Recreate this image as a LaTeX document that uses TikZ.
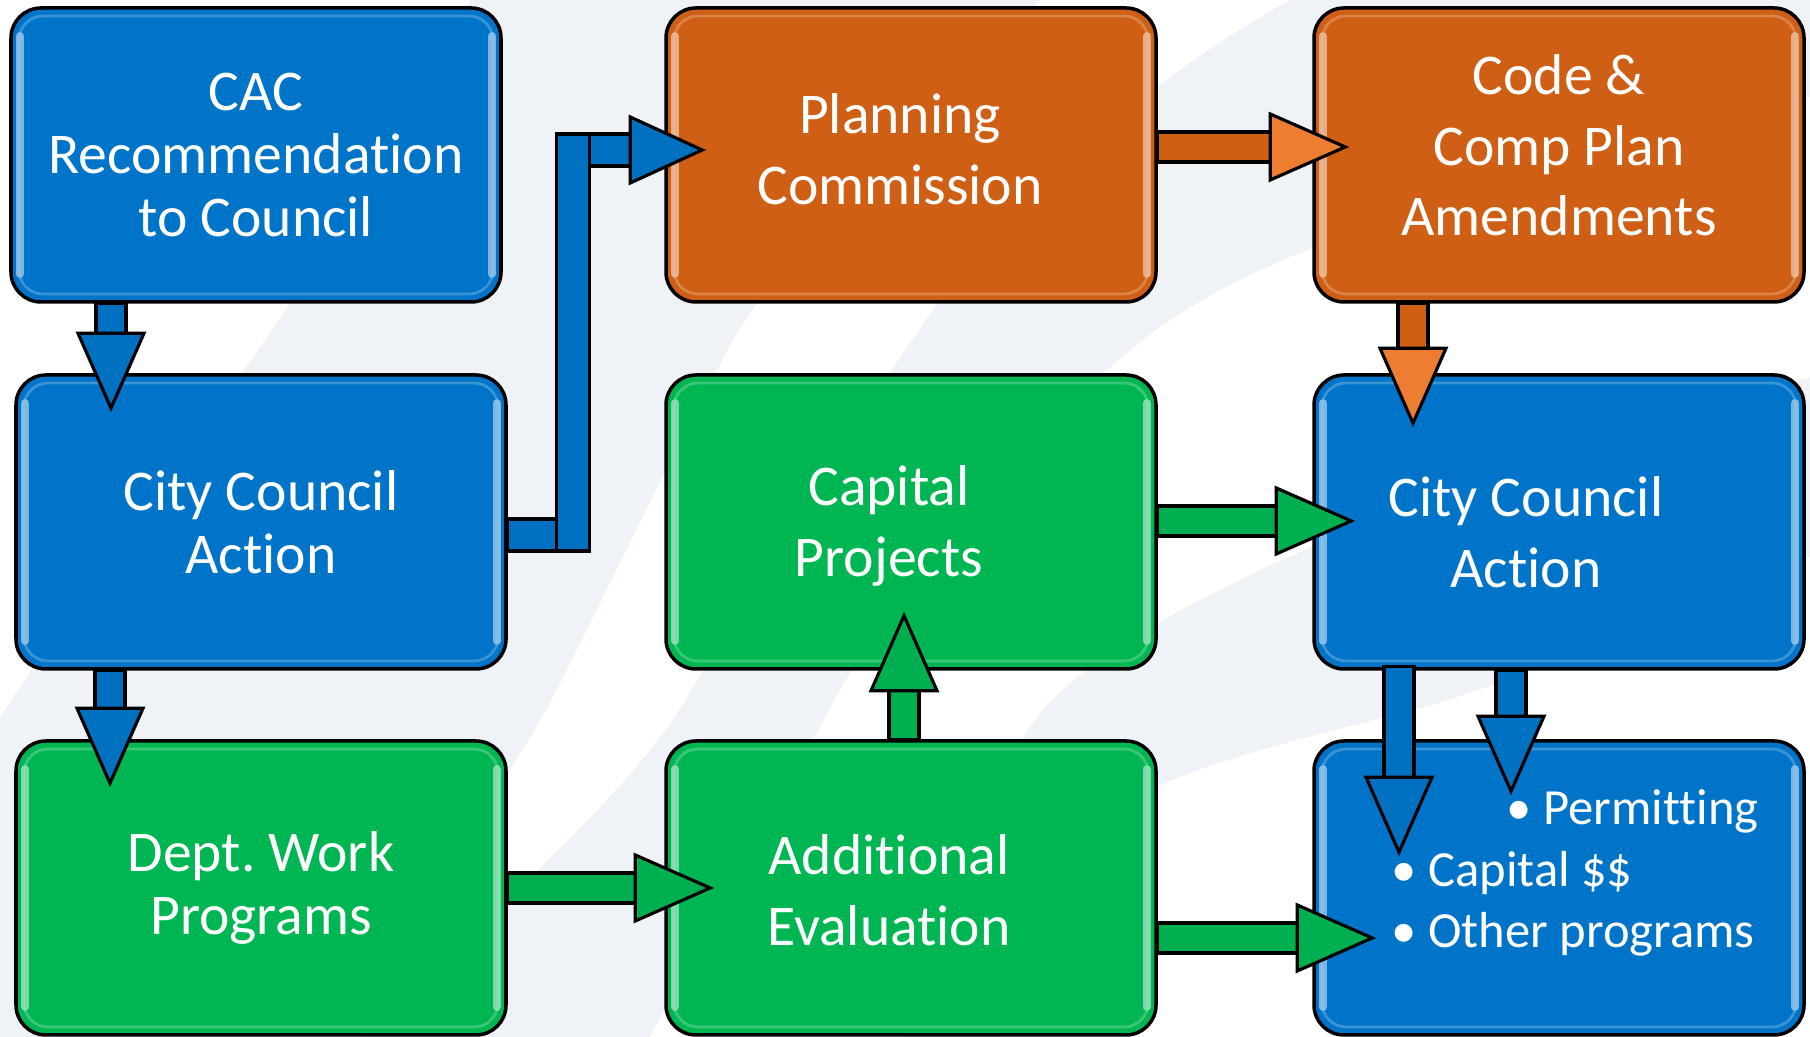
\documentclass[tikz,border=0pt]{standalone}
\usepackage{fontspec}
\setmainfont{Carlito}[Ligatures=NoCommon]
\usetikzlibrary{calc}
\frenchspacing

\definecolor{boxblue}{RGB}{0,116,200}
\definecolor{boxorange}{RGB}{207,95,20}
\definecolor{boxgreen}{RGB}{0,182,82}
\definecolor{arrblue}{RGB}{0,112,192}
\definecolor{arrorange}{RGB}{237,125,49}
\definecolor{arrgreen}{RGB}{0,176,80}
\definecolor{bggrey}{RGB}{239,243,248}

\tikzset{
  box/.style={draw=black, line width=1pt, rounded corners=0.3cm, fill=#1,
    minimum width=4.9cm, minimum height=2.94cm, text=white, align=center,
    font=\fontsize{16.4}{20}\selectfont,
    path picture={
      \draw[#1!50!white, line width=0.8pt, rounded corners=0.24cm, opacity=0.45]
        ([shift={(0.08,0.08)}]path picture bounding box.south west) rectangle
        ([shift={(-0.08,-0.08)}]path picture bounding box.north east);
      \draw[#1!35!white, line width=2.2pt, line cap=round, opacity=0.75]
        ([shift={(0.09,0.28)}]path picture bounding box.south west) --
        ([shift={(0.09,-0.28)}]path picture bounding box.north west);
      \draw[#1!35!white, line width=2.2pt, line cap=round, opacity=0.75]
        ([shift={(-0.09,0.28)}]path picture bounding box.south east) --
        ([shift={(-0.09,-0.28)}]path picture bounding box.north east);}},
  tightbox/.style={box=#1, font=\fontsize{16.4}{18}\selectfont},
  listtext/.style={text=white, align=left, inner sep=0pt, font=\fontsize{14.4}{17.6}\selectfont},
  blockline/.style={draw=black, line width=0.9pt, line join=miter}
}

% moves a centred text block by half the given lengths (right, down)
\newcommand{\nudge}[3]{\raisebox{0pt}[\dimexpr\height+#2\relax][\depth]{%
  \hspace*{#1}\begin{tabular}{@{}c@{}}#3\end{tabular}}}

% block arrows: shaft colour, head colour, start, tip
\newcommand{\downblock}[4]{%
  \draw[blockline, fill=#1] ($(#3)+(-0.15,0)$) rectangle ($(#4)+(0.15,0.75)$);
  \draw[blockline, fill=#2] ($(#4)+(-0.33,0.75)$) -- ($(#4)+(0.33,0.75)$) -- (#4) -- cycle;}
\newcommand{\upblock}[4]{%
  \draw[blockline, fill=#1] ($(#3)+(-0.15,0)$) rectangle ($(#4)+(0.15,-0.75)$);
  \draw[blockline, fill=#2] ($(#4)+(-0.33,-0.75)$) -- ($(#4)+(0.33,-0.75)$) -- (#4) -- cycle;}
\newcommand{\rightblock}[4]{%
  \draw[blockline, fill=#1] ($(#3)+(0,-0.15)$) rectangle ($(#4)+(-0.75,0.15)$);
  \draw[blockline, fill=#2] ($(#4)+(-0.75,0.33)$) -- ($(#4)+(-0.75,-0.33)$) -- (#4) -- cycle;}

\begin{document}
\begin{tikzpicture}
% background swooshes
\fill[bggrey] (0,0) rectangle (18.1,10.37);
\fill[white] (0,10.37) -- (4.7,10.37) .. controls (3.6,8.0) and (1.5,5.5) .. (0,3.2) -- cycle;
\fill[white] (10.4,10.37) .. controls (8.8,8.8) and (7.9,7.9) .. (7.33,6.97)
  .. controls (6.6,5.6) and (6.0,4.3) .. (5.48,3.30)
  .. controls (4.7,1.9) and (3.6,0.8) .. (2.8,0) -- (3.6,0)
  .. controls (4.6,1.0) and (6.1,2.2) .. (6.81,3.30)
  .. controls (7.6,4.6) and (8.3,5.8) .. (9.12,6.97)
  .. controls (10.0,8.3) and (11.5,9.6) .. (12.9,10.37) -- cycle;
\fill[white] (18.1,9.4) .. controls (15.0,8.6) and (12.6,7.9) .. (11.43,6.97)
  .. controls (10.0,5.8) and (9.0,4.6) .. (8.31,3.30)
  .. controls (7.6,2.0) and (7.0,0.9) .. (6.5,0) -- (9.0,0)
  .. controls (9.4,1.3) and (9.8,2.5) .. (10.45,3.30)
  .. controls (11.5,4.4) and (14.5,5.6) .. (18.1,6.6) -- cycle;
\fill[white] (18.1,4.8) .. controls (16.5,4.2) and (15.3,3.6) .. (14.25,3.30)
  .. controls (13.1,3.0) and (12.2,2.8) .. (11.5,2.47)
  .. controls (10.8,2.0) and (10.3,1.0) .. (10.0,0) -- (18.1,0) -- cycle;
\useasboundingbox (0,0) rectangle (18.1,10.37);

% first column
\node[tightbox=boxblue] (cac) at (2.56,8.82) {CAC\\Recommendation\\to Council};
\node[tightbox=boxblue] (cc1) at (2.61,5.15) {City Council\\Action};
\node[tightbox=boxgreen] (dept) at (2.61,1.49) {Dept. Work\\Programs};

% second column
\node[box=boxorange] (planning) at (9.11,8.82) {\nudge{-0.22cm}{0cm}{Planning\\Commission}};
\node[box=boxgreen] (capital) at (9.11,5.15) {\nudge{-0.44cm}{0.10cm}{Capital\\Projects}};
\node[box=boxgreen] (additional) at (9.11,1.49) {\nudge{-0.44cm}{0.16cm}{Additional\\Evaluation}};

% third column
\node[box=boxorange] (code) at (15.59,8.82) {\nudge{0cm}{-0.08cm}{Code \&\\Comp Plan\\Amendments}};
\node[box=boxblue] (cc2) at (15.59,5.15) {\nudge{-0.66cm}{0.32cm}{City Council\\Action}};
\node[box=boxblue] (outcome) at (15.59,1.49) {};
\node[listtext, anchor=west] (outlist) at ([xshift=-1.68cm,yshift=0.15cm]outcome.center)
  {\hspace*{1.15cm}• Permitting\\• Capital \$\$\\• Other programs};

% arrow ends
\coordinate (a1t) at ([xshift=-1.50cm,yshift=-0.35cm]cc1.north);
\coordinate (a1s) at (a1t |- cac.south);
\coordinate (a2t) at ([xshift=-1.51cm,yshift=-0.44cm]dept.north);
\coordinate (a2s) at (a2t |- cc1.south);
\coordinate (a3s) at ([yshift=-0.13cm]cc1.east);
\coordinate (a3k) at ([xshift=0.49cm]a3s);
\coordinate (a3t) at ([xshift=0.38cm,yshift=0.05cm]planning.west);
\coordinate (a4t) at ([xshift=0.33cm,yshift=0.08cm]code.west);
\coordinate (a4s) at (a4t -| planning.east);
\coordinate (a5t) at ([xshift=-1.46cm,yshift=-0.50cm]cc2.north);
\coordinate (a5s) at (a5t |- code.south);
\coordinate (a6t) at ([xshift=0.39cm,yshift=0.01cm]cc2.west);
\coordinate (a6s) at (a6t -| capital.east);
\coordinate (a7t) at ([xshift=-0.07cm,yshift=0.55cm]capital.south);
\coordinate (a7s) at (a7t |- additional.north);
\coordinate (a8t) at ([xshift=0.46cm]additional.west);
\coordinate (a8s) at (a8t -| dept.east);
\coordinate (a9t) at ([xshift=0.60cm,yshift=-0.50cm]outcome.west);
\coordinate (a9s) at (a9t -| additional.east);
\coordinate (a10t) at ([xshift=-1.60cm,yshift=-1.13cm]outcome.north);
\coordinate (a10s) at ([yshift=0.04cm]a10t |- cc2.south);
\coordinate (a11t) at ([xshift=-0.48cm,yshift=-0.52cm]outcome.north);
\coordinate (a11s) at (a11t |- cc2.south);

% connectors
\downblock{arrblue}{arrblue}{a1s}{a1t}
\downblock{arrblue}{arrblue}{a2s}{a2t}
\draw[blockline, fill=arrblue] ($(a3s)+(0,-0.16)$) rectangle ($(a3k)+(0,0.16)$);
\draw[blockline, fill=arrblue] ($(a3k)+(0,-0.16)$) rectangle ($(a3k |- a3t)+(0.33,0.16)$);
\draw[blockline, fill=arrblue] ($(a3k |- a3t)+(0.33,-0.16)$) rectangle ($(a3t)+(-0.72,0.16)$);
\draw[blockline, fill=arrblue] ($(a3t)+(-0.72,0.33)$) -- ($(a3t)+(-0.72,-0.33)$) -- (a3t) -- cycle;
\rightblock{boxorange}{arrorange}{a4s}{a4t}
\downblock{boxorange}{arrorange}{a5s}{a5t}
\rightblock{arrgreen}{arrgreen}{a6s}{a6t}
\upblock{arrgreen}{arrgreen}{a7s}{a7t}
\rightblock{arrgreen}{arrgreen}{a8s}{a8t}
\rightblock{arrgreen}{arrgreen}{a9s}{a9t}
\downblock{arrblue}{arrblue}{a10s}{a10t}
\downblock{arrblue}{arrblue}{a11s}{a11t}
\end{tikzpicture}
\end{document}
